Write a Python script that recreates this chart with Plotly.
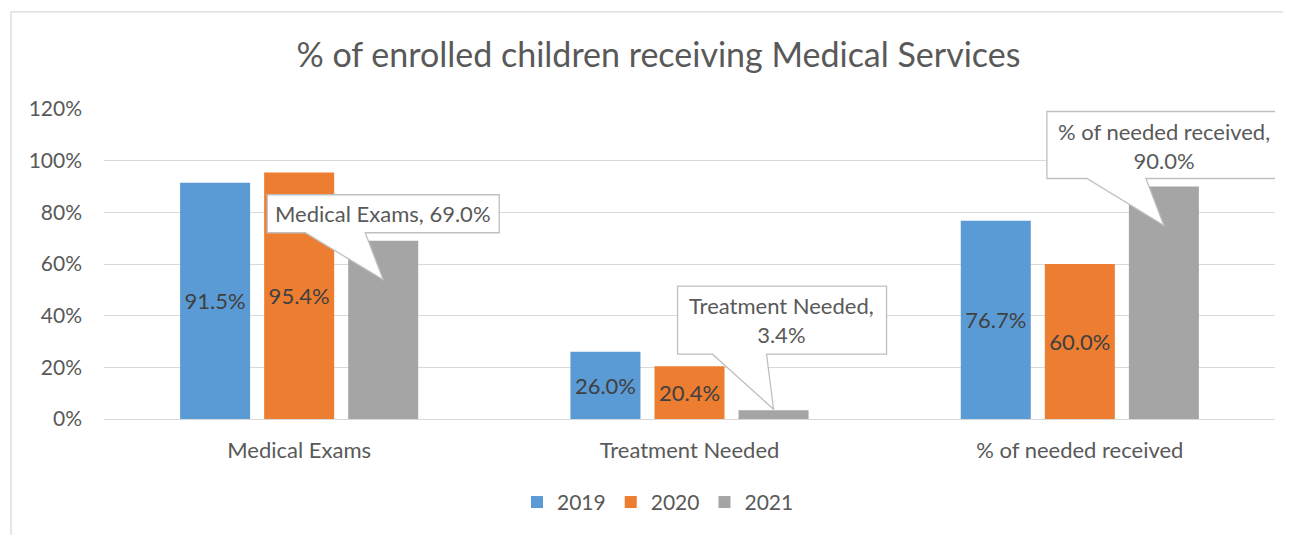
import plotly.graph_objects as go

# data
categories = ["Medical Exams", "Treatment Needed", "% of needed received"]
years = ["2019", "2020", "2021"]
values_2019 = [91.5, 26.0, 76.7]
values_2020 = [95.4, 20.4, 60.0]
values_2021 = [69.0, 3.4, 90.0]
y_ticks = [0, 20, 40, 60, 80, 100, 120]

colors = ["#5B9BD5", "#ED7D31", "#A5A5A5"]
FONT = "Lato"
TEXT = "#595959"
GRID = "#D9D9D9"

# page body has an 8px margin, so the figure is laid out 8px smaller / shifted
OFF = 8
W, H = 1291 - OFF, 535 - OFF
M = dict(l=104 - OFF, r=16, t=109 - OFF, b=110)
BARGAP = 0.354
GROUPGAP = 0.167

x_pos = list(range(len(categories)))
fig = go.Figure()

for name, vals, col, show_text in zip(
        years, [values_2019, values_2020, values_2021], colors, [True, True, False]):
    fig.add_trace(go.Bar(
        x=x_pos,
        y=vals,
        name=name,
        marker=dict(color=col, line=dict(width=0)),
        text=[f"{v:.1f}%" for v in vals] if show_text else None,
        textposition="inside" if show_text else "none",
        insidetextanchor="middle",
        constraintext="none",
        textfont=dict(family=FONT, size=22, color="#404040"),
        hoverinfo="skip",
    ))

# callouts for the 2021 series: box + wedge in pixels relative to the bar top
# (box left, box right, box bottom, box top, wedge left, wedge right, tip x, tip y, text dx, text dy)
callout_geom = [
    (-116, 116, 8, 46, -78, -18, 0, -39, 0, 27),
    (-96, 113, 56, 124, -61, -7, 0, 1, 8, 90),
    (-117, 118, 8, 75, -77, -18, 0, -39, 0, 41),
]
slot = (1 - BARGAP) / 3
for i, (cat, v, g) in enumerate(zip(categories, values_2021, callout_geom)):
    x0, x1, yb, yt, wl, wr, tx, ty, dx, dy = g
    xc = i + slot
    path = (f"M{x0},{yb} L{wl},{yb} L{tx},{ty} L{wr},{yb} L{x1},{yb} "
            f"L{x1},{yt} L{x0},{yt} Z")
    fig.add_shape(type="path", path=path, xref="x", yref="y",
                  xsizemode="pixel", ysizemode="pixel", xanchor=xc, yanchor=v,
                  fillcolor="white", line=dict(color="#BFBFBF", width=1.3),
                  layer="above")
    label = f"{cat}, {v:.1f}%"
    if yt - yb > 50:
        label = f"{cat},<br>{v:.1f}%"
    fig.add_annotation(x=xc, y=v, xref="x", yref="y", text=label,
                       showarrow=False, xshift=dx, yshift=dy,
                       font=dict(family=FONT, size=22, color=TEXT),
                       align="center")

# chart border (left and top edges visible in the reference)
pw = W - M["l"] - M["r"]
ph = H - M["t"] - M["b"]
fig.add_shape(type="rect", xref="paper", yref="paper",
              x0=(11 - OFF - M["l"]) / pw, x1=(W + 20 - M["l"]) / pw,
              y0=-(H + 20 - M["t"] - ph) / ph, y1=(H - M["b"] - (10 - OFF)) / ph,
              line=dict(color=GRID, width=1.3), fillcolor="rgba(0,0,0,0)",
              layer="below")

fig.update_layout(
    width=W, height=H,
    margin=M,
    paper_bgcolor="white",
    plot_bgcolor="white",
    barmode="group",
    bargap=BARGAP,
    bargroupgap=GROUPGAP,
    font=dict(family=FONT, color=TEXT, size=22),
    title=dict(text="% of enrolled children receiving Medical Services",
               x=(658.5 - OFF) / W, xanchor="center", xref="container",
               y=1 - (55 - OFF) / H, yanchor="middle", yref="container",
               font=dict(family=FONT, size=34, color=TEXT)),
    showlegend=True,
    legend=dict(orientation="h", x=(658 - OFF - M["l"]) / pw, xanchor="center",
                y=-(510 - OFF - (H - M["b"])) / ph, yanchor="middle",
                font=dict(family=FONT, size=21, color=TEXT),
                itemwidth=30, traceorder="normal"),
    hovermode=False,
)
fig.update_xaxes(
    range=[-0.5, len(categories) - 0.5],
    tickvals=x_pos, ticktext=categories,
    showgrid=False, showline=True, linecolor=GRID, linewidth=1.3,
    ticks="", ticklabelstandoff=11,
    tickfont=dict(family=FONT, size=22, color=TEXT),
    zeroline=False, fixedrange=True,
)
fig.update_yaxes(
    range=[0, 120], tickvals=y_ticks, ticktext=[f"{t}%" for t in y_ticks],
    showgrid=True, gridcolor=GRID, gridwidth=1.3,
    showline=False, zeroline=False, ticks="", ticklabelstandoff=21,
    tickfont=dict(family=FONT, size=21, color=TEXT), fixedrange=True,
)

fig.write_html("out.html")
